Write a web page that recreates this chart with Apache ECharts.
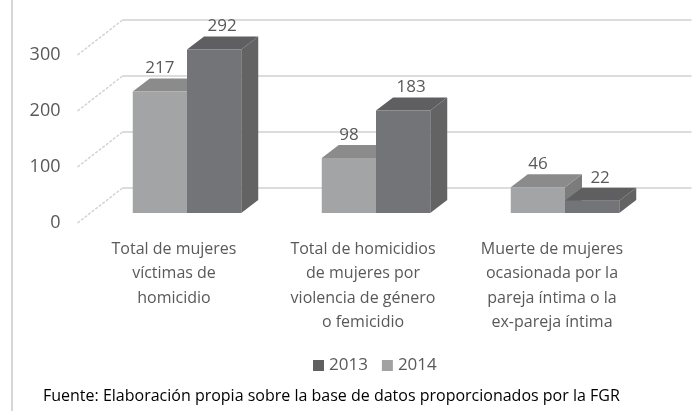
<!DOCTYPE html>
<html>
<head>
<meta charset="utf-8">
<script src="https://cdn.jsdelivr.net/npm/echarts@6/dist/echarts.min.js"></script>
<style>
  html, body { margin: 0; padding: 0; background: #fff; }
  #chart { width: 693px; height: 411px; }
</style>
</head>
<body>
<div id="chart"></div>
<script>
// --- datos ---
const categories = [
  "Total de mujeres\nvíctimas de\nhomicidio",
  "Total de homicidios\nde mujeres por\nviolencia de género\no femicidio",
  "Muerte de mujeres\nocasionada por la\npareja íntima o la\nex-pareja íntima",
];
const values2014 = [217, 98, 46];
const values2013 = [292, 183, 22];
const yTicks = [0, 100, 200, 300];

// --- geometría 3D (imitación Excel) ---
const WALL_DX = 45, WALL_DY = 35;   // profundidad de la pared del fondo
const SHIFT_X = 13, SHIFT_Y = 10;   // plano de las barras respecto al plano de etiquetas
const DEPTH_X = 17, DEPTH_Y = 13;   // profundidad de cada barra
const BAR_RATIO = 0.287;

const FONT = "Open Sans";
const TXT = "#595959";

// dibuja una barra 3D: slot 0 = izquierda, 1 = derecha
function barRenderer(slot, colors, labelShift) {
  return function (params, api) {
    const cat = api.value(0);
    const val = api.value(1);
    const base = api.coord([cat, 0]);
    const band = api.size([1, 0])[0];
    const w = band * BAR_RATIO;
    const h = api.size([0, val])[1];
    const x0 = base[0] + SHIFT_X + (slot - 1) * w;
    const y0 = base[1] - SHIFT_Y;
    const yt = y0 - h;

    return {
      type: "group",
      children: [
        {
          type: "polygon",
          shape: { points: [[x0 + w, y0], [x0 + w + DEPTH_X, y0 - DEPTH_Y], [x0 + w + DEPTH_X, yt - DEPTH_Y], [x0 + w, yt]] },
          style: { fill: colors.side },
        },
        {
          type: "polygon",
          shape: { points: [[x0, yt], [x0 + w, yt], [x0 + w + DEPTH_X, yt - DEPTH_Y], [x0 + DEPTH_X, yt - DEPTH_Y]] },
          style: { fill: colors.top },
        },
        {
          type: "rect",
          shape: { x: x0, y: yt, width: w, height: h },
          style: { fill: colors.front },
        },
        {
          type: "text",
          x: x0 + w / 2 + labelShift,
          y: yt - 23,
          style: {
            text: String(val),
            fill: TXT,
            font: "17px '" + FONT + "'",
            align: "center",
            verticalAlign: "middle",
          },
        },
      ],
    };
  };
}

// pared del fondo: líneas de la cuadrícula + diagonales del lateral
function wallRenderer(params, api) {
  const cs = params.coordSys;
  const y = api.coord([0, api.value(1)])[1];
  const left = cs.x - 2;
  const right = cs.x + cs.width + WALL_DX;
  return {
    type: "group",
    children: [
      {
        type: "line",
        shape: { x1: left, y1: y, x2: left + WALL_DX, y2: y - WALL_DY },
        style: { stroke: "#d4d4d4", lineWidth: 1.5, lineDash: [3, 1.5] },
      },
      {
        type: "line",
        shape: { x1: left + WALL_DX, y1: y - WALL_DY, x2: right, y2: y - WALL_DY },
        style: { stroke: "#dcdcdc", lineWidth: 2 },
      },
    ],
  };
}

const chart = echarts.init(document.getElementById("chart"));

const option = {
  animation: false,
  textStyle: { fontFamily: FONT },
  grid: { left: 79.5, right: 46.5, top: 55, bottom: 188 },
  xAxis: {
    type: "category",
    data: categories,
    axisLine: { show: false },
    axisTick: { show: false },
    axisLabel: {
      interval: 0,
      margin: 14,
      color: TXT,
      fontSize: 16,
      lineHeight: 24.5,
      fontFamily: FONT,
    },
  },
  yAxis: {
    type: "value",
    min: 0,
    max: 300,
    interval: 100,
    axisLine: { show: false },
    axisTick: { show: false },
    splitLine: { show: false },
    axisLabel: { margin: 19, color: TXT, fontSize: 18, fontFamily: FONT },
  },
  legend: {
    data: [
      { name: "2013", itemStyle: { color: "#606060" } },
      { name: "2014", itemStyle: { color: "#a2a2a2" } },
    ],
    icon: "rect",
    itemWidth: 11,
    itemHeight: 11,
    itemGap: 14,
    left: 308,
    top: 352,
    textStyle: { color: TXT, fontSize: 17, fontFamily: FONT },
  },
  title: {
    text: "Fuente: Elaboración propia sobre la base de datos proporcionados por la FGR",
    left: 38,
    top: 383,
    textStyle: { color: "#000", fontSize: 16, fontWeight: "normal", fontFamily: FONT },
  },
  graphic: [
    {
      type: "line",
      shape: { x1: 12, y1: 0, x2: 12, y2: 411 },
      style: { stroke: "#d6d6d6", lineWidth: 2 },
      silent: true,
    },
  ],
  series: [
    {
      name: "wall",
      type: "custom",
      renderItem: wallRenderer,
      data: yTicks.map((v) => [0, v]),
      silent: true,
      z: 1,
    },
    {
      name: "2014",
      type: "custom",
      itemStyle: { color: "#a2a2a2" },
      renderItem: barRenderer(0, { front: "#a3a4a6", top: "#8b8b8c", side: "#7c7c7d" }, 0),
      data: values2014.map((v, i) => [i, v]),
      z: 2,
    },
    {
      name: "2013",
      type: "custom",
      itemStyle: { color: "#606060" },
      renderItem: barRenderer(1, { front: "#737477", top: "#5f5f61", side: "#636364" }, 8),
      data: values2013.map((v, i) => [i, v]),
      z: 3,
    },
  ],
};

chart.setOption(option);
</script>
</body>
</html>
